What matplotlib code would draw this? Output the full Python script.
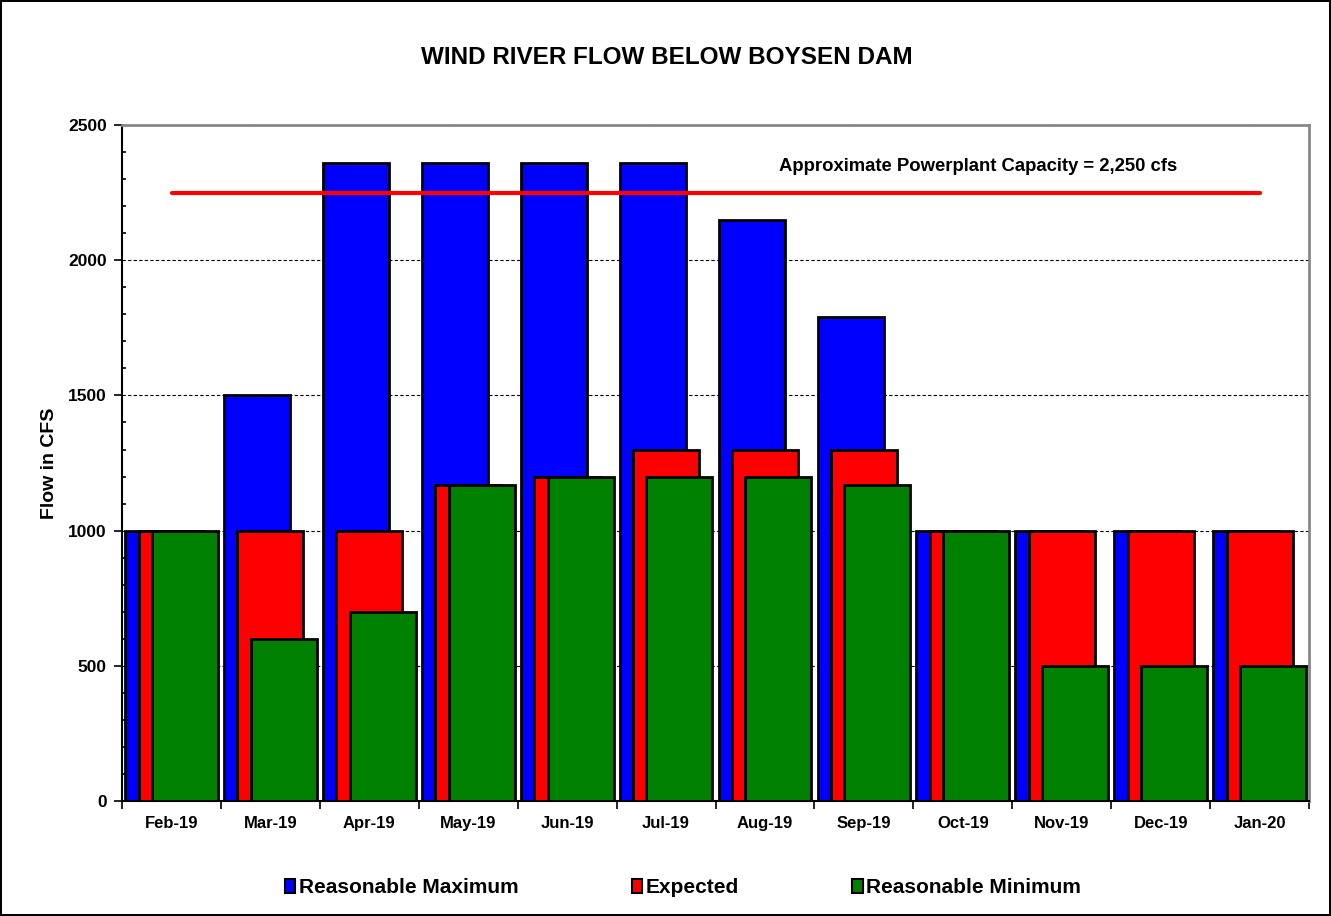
import numpy as np
import matplotlib
matplotlib.use("Agg")
import matplotlib.pyplot as plt
from matplotlib.patches import Patch
from matplotlib.ticker import MultipleLocator, FixedLocator

plt.rcParams['font.family'] = ['Liberation Sans', 'DejaVu Sans']

# data
months = ["Feb-19", "Mar-19", "Apr-19", "May-19", "Jun-19", "Jul-19",
          "Aug-19", "Sep-19", "Oct-19", "Nov-19", "Dec-19", "Jan-20"]
reas_max = [1000, 1500, 2360, 2360, 2360, 2360, 2150, 1790, 1000, 1000, 1000, 1000]
expected = [1000, 1000, 1000, 1170, 1200, 1300, 1300, 1300, 1000, 1000, 1000, 1000]
reas_min = [1000, 600, 700, 1170, 1200, 1200, 1200, 1170, 1000, 500, 500, 500]
capacity = 2250

x = np.arange(len(months))

fig = plt.figure(figsize=(13.31, 9.16), dpi=100)
fig.patch.set_edgecolor('black')
fig.patch.set_linewidth(1.5)
ax = fig.add_axes([0.0917, 0.1255, 0.8918, 0.738])

w = 0.667
step = 0.135
ax.bar(x - step, reas_max, w, color='#0000ff', edgecolor='black', linewidth=2.0, zorder=2,
       label='Reasonable Maximum')
ax.bar(x, expected, w, color='#ff0000', edgecolor='black', linewidth=2.0, zorder=3,
       label='Expected')
ax.bar(x + step, reas_min, w, color='#008000', edgecolor='black', linewidth=2.0, zorder=4,
       label='Reasonable Minimum')

ax.plot([x[0], x[-1]], [capacity, capacity], color='#ff0000', lw=3, zorder=5,
        solid_capstyle='round')
ax.text(8.15, 2345, "Approximate Powerplant Capacity = 2,250 cfs", ha='center', va='center',
        fontsize=13.3, fontweight='bold')

ax.set_xlim(-0.5, 11.5)
ax.set_ylim(0, 2500)
ax.yaxis.set_major_locator(MultipleLocator(500))
ax.yaxis.set_minor_locator(MultipleLocator(100))
ax.grid(axis='y', which='major', color='black', linestyle=(0, (3, 2)), linewidth=0.8, zorder=1)
ax.set_axisbelow(True)

ax.set_xticks(x)
ax.set_xticklabels(months, fontweight='bold', fontsize=12)
ax.xaxis.set_minor_locator(FixedLocator(np.arange(-0.5, 12, 1)))
ax.tick_params(axis='x', which='major', length=0, pad=11)
ax.tick_params(axis='x', which='minor', length=6, width=1.2, direction='out')
ax.tick_params(axis='y', which='major', length=6, width=1.2, direction='out', labelsize=12.5,
               pad=5)
ax.tick_params(axis='y', which='minor', length=3, width=1.2, direction='in')
for lab in ax.get_yticklabels():
    lab.set_fontweight('bold')

ax.spines['left'].set_linewidth(1.5)
ax.spines['bottom'].set_linewidth(1.5)
ax.spines['top'].set_color('#888888')
ax.spines['right'].set_color('#888888')
ax.spines['top'].set_linewidth(2)
ax.spines['right'].set_linewidth(2)

ax.set_ylabel("Flow in CFS", fontweight='bold', fontsize=14, labelpad=7)
fig.text(0.501, 0.937, "WIND RIVER FLOW BELOW BOYSEN DAM", ha='center', va='center',
         fontsize=17.5, fontweight='bold')

handles = [Patch(facecolor='#0000ff', edgecolor='black', linewidth=1.5),
           Patch(facecolor='#ff0000', edgecolor='black', linewidth=1.5),
           Patch(facecolor='#008000', edgecolor='black', linewidth=1.5)]
fig.legend(handles, ['Reasonable Maximum', 'Expected', 'Reasonable Minimum'],
           loc='center', bbox_to_anchor=(0.513, 0.031), ncol=3, frameon=False,
           handlelength=0.5, handleheight=0.7, handletextpad=0.15, columnspacing=5.45,
           prop={'weight': 'bold', 'size': 15})

fig.savefig("out.png", dpi=100, edgecolor=fig.get_edgecolor())
